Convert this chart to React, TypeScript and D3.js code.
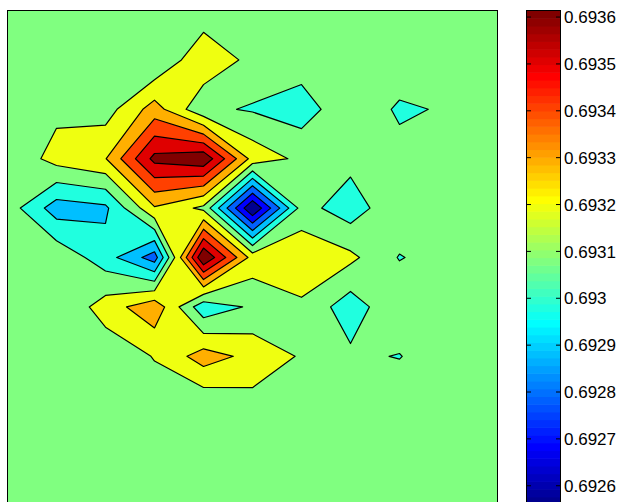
import React from 'react';
import * as d3 from 'd3';

// Grid values: 11 rows (top to bottom) x 11 columns (left to right)
const row00 = [0.693087, 0.693087, 0.693087, 0.693087, 0.693074, 0.693087, 0.693087, 0.693087, 0.693087, 0.693087, 0.693087];
const row01 = [0.693087, 0.693087, 0.693087, 0.693041, 0.693212, 0.693105, 0.693085, 0.693087, 0.693100, 0.693087, 0.693087];
const row02 = [0.693087, 0.693111, 0.693092, 0.693274, 0.693058, 0.693030, 0.692993, 0.693108, 0.693025, 0.693049, 0.693087];
const row03 = [0.693054, 0.693173, 0.693226, 0.693547, 0.693592, 0.693197, 0.693111, 0.693071, 0.693071, 0.693087, 0.693087];
const row04 = [0.693090, 0.692895, 0.692924, 0.693221, 0.693112, 0.692560, 0.693077, 0.692985, 0.693121, 0.693087, 0.693087];
const row05 = [0.693097, 0.693113, 0.692986, 0.692799, 0.693614, 0.693192, 0.693205, 0.693158, 0.693033, 0.693087, 0.693087];
const row06 = [0.693087, 0.693044, 0.693180, 0.693298, 0.692972, 0.693056, 0.693118, 0.692985, 0.693125, 0.693087, 0.693087];
const row07 = [0.693087, 0.693087, 0.693070, 0.693140, 0.693277, 0.693201, 0.693125, 0.693058, 0.693034, 0.693125, 0.693087];
const row08 = [0.693087, 0.693087, 0.693087, 0.693087, 0.693052, 0.693097, 0.693087, 0.693087, 0.693125, 0.693087, 0.693087];
const row09 = [0.693087, 0.693087, 0.693087, 0.693087, 0.693087, 0.693087, 0.693087, 0.693087, 0.693087, 0.693087, 0.693087];
const row10 = [0.693087, 0.693087, 0.693087, 0.693087, 0.693087, 0.693087, 0.693087, 0.693087, 0.693087, 0.693087, 0.693087];
const GRID = [row00, row01, row02, row03, row04, row05, row06, row07, row08, row09, row10];

// Colour range of the colour bar
const V_MIN = 0.69256;
const V_MAX = 0.693614;

// Contour levels
const LEVELS = [0.6926558, 0.6927516, 0.6928475, 0.6929433, 0.6930391, 0.6931349, 0.6932307, 0.6933265, 0.6934224, 0.6935182];

// Colour-bar ticks
const TICKS = [0.6926, 0.6927, 0.6928, 0.6929, 0.693, 0.6931, 0.6932, 0.6933, 0.6934, 0.6935, 0.6936];
const TICK_LABELS = ['0.6926', '0.6927', '0.6928', '0.6929', '0.693', '0.6931', '0.6932', '0.6933', '0.6934', '0.6935', '0.6936'];

// jet(64) rows used for each filled band (lowest band first)
const BAND_ROWS = [1, 8, 14, 20, 26, 32, 39, 45, 52, 58, 64];
// saddle handling per level (true: high-valued corners joined)
const CONNECT_HIGH = [false, false, false, true, true, true, false, false, false, false];

function jet64(row: number): string {
  const u = (k: number) => (k < 1 || k > 47 ? 0 : k <= 16 ? k / 16 : k <= 31 ? 1 : (48 - k) / 16);
  const r = row >= 25 ? u(row - 24) : 0;
  const g = row >= 9 && row <= 55 ? u(row - 8) : 0;
  const b = row <= 39 ? u(row + 8) : 0;
  return d3.rgb(Math.round(r * 255), Math.round(g * 255), Math.round(b * 255)).formatHex();
}

export default function App() {
  const W = 619;
  const H = 502;
  const X0 = 7.5, X1 = 497.5, Y0 = 10.5, Y1 = 504.5;
  const CB0 = 526.5, CB1 = 560.5;
  const NY = GRID.length;
  const NX = GRID[0].length;
  const flat = GRID.flat();
  const neg = flat.map((v) => -v);

  const gen = d3.contours().size([NX, NY]).smooth(true);
  const xS = d3.scaleLinear().domain([0.5, NX - 0.5]).range([X0, X1]);
  const yS = d3.scaleLinear().domain([0.5, NY - 0.5]).range([Y0, Y1]);
  const proj = d3.geoTransform({
    point: function (x: number, y: number) {
      (this as any).stream.point(xS(x), yS(y));
    },
  });
  const path = d3.geoPath(proj as any);
  const frame = `M${xS(0)},${yS(0)}H${xS(NX)}V${yS(NY)}H${xS(0)}Z`;

  const layers = LEVELS.map((L, k) => {
    const color = jet64(BAND_ROWS[k + 1]);
    if (CONNECT_HIGH[k]) {
      const c = gen.contour(neg, -L);
      const p = path(c as any) || '';
      return { fill: frame + p, line: p, color };
    }
    const c = gen.contour(flat, L);
    const p = path(c as any) || '';
    return { fill: p, line: p, color };
  });

  const cbScale = d3.scaleLinear().domain([V_MIN, V_MAX]).range([Y1, Y0]);
  const nRows = 64;
  const cbRects = d3.range(nRows).map((i) => {
    const a = V_MIN + (i * (V_MAX - V_MIN)) / nRows;
    const b = V_MIN + ((i + 1) * (V_MAX - V_MIN)) / nRows;
    return { y: cbScale(b), h: cbScale(a) - cbScale(b), color: jet64(i + 1) };
  });

  const font = "'Liberation Sans', Arial, sans-serif";

  return (
    <svg
      width={W}
      height={H}
      style={{ position: 'absolute', left: 0, top: 0, background: '#fff' }}
      xmlns="http://www.w3.org/2000/svg"
    >
      <defs>
        <clipPath id="plotClip">
          <rect x={X0} y={Y0} width={X1 - X0} height={Y1 - Y0} />
        </clipPath>
      </defs>
      <rect x={0} y={0} width={W} height={H} fill="#fff" />
      <g clipPath="url(#plotClip)">
        <rect x={X0} y={Y0} width={X1 - X0} height={Y1 - Y0} fill={jet64(BAND_ROWS[0])} />
        {layers.map((l, i) => (
          <path key={'f' + i} d={l.fill} fill={l.color} fillRule="evenodd" stroke="none" />
        ))}
        {layers.map((l, i) => (
          <path key={'s' + i} d={l.line} fill="none" stroke="#000" strokeWidth={1.2} strokeLinejoin="round" />
        ))}
      </g>
      <rect x={X0} y={Y0} width={X1 - X0} height={Y1 - Y0} fill="none" stroke="#000" strokeWidth={1} />

      {cbRects.map((r, i) => (
        <rect key={'cb' + i} x={CB0} y={r.y} width={CB1 - CB0} height={r.h + 0.6} fill={r.color} />
      ))}
      <rect x={CB0} y={Y0} width={CB1 - CB0} height={Y1 - Y0} fill="none" stroke="#000" strokeWidth={1} />
      {TICKS.map((t, i) => {
        const y = cbScale(t);
        return (
          <g key={'t' + i}>
            <line x1={CB0} x2={CB0 + 4.5} y1={y} y2={y} stroke="#000" strokeWidth={1} />
            <line x1={CB1 - 4.5} x2={CB1} y1={y} y2={y} stroke="#000" strokeWidth={1} />
            <text x={564} y={y + 6.1} fontFamily={font} fontSize={17} fill="#000">
              {TICK_LABELS[i]}
            </text>
          </g>
        );
      })}
    </svg>
  );
}
